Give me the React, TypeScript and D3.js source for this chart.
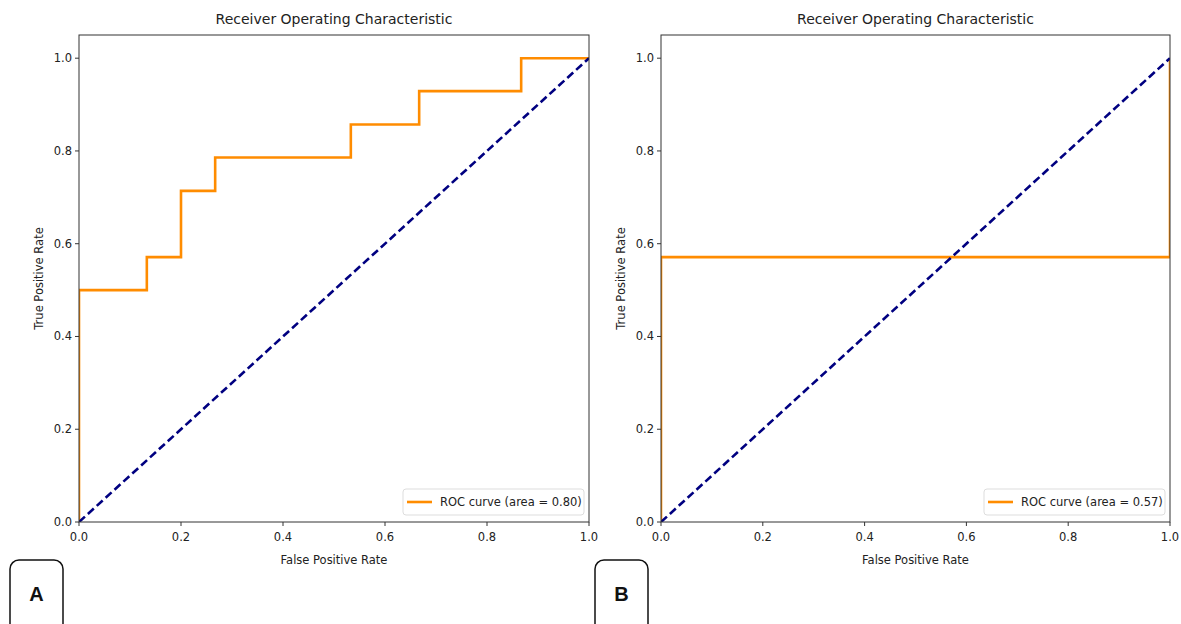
import * as d3 from "d3";

// ROC data
const fprA = [0, 0, 0.133, 0.133, 0.2, 0.2, 0.267, 0.267, 0.533, 0.533, 0.667, 0.667, 0.867, 0.867, 1];
const tprA = [0, 0.5, 0.5, 0.571, 0.571, 0.714, 0.714, 0.786, 0.786, 0.857, 0.857, 0.929, 0.929, 1, 1];
const fprB = [0, 0, 1, 1];
const tprB = [0, 0.571, 0.571, 1];
const chanceLine = [0, 1];
const xTicks = [0, 0.2, 0.4, 0.6, 0.8, 1.0];
const yTicks = [0, 0.2, 0.4, 0.6, 0.8, 1.0];
const aucLabels = ["ROC curve (area = 0.80)", "ROC curve (area = 0.57)"];
const panelLetters = ["A", "B"];

const W = 1181;
const H = 624;
const top = 35;
const bottom = 522;
const font = "DejaVu Sans, sans-serif";
const fmt = d3.format(".1f");

const panels = [
  { left: 79, right: 589, fpr: fprA, tpr: tprA, box: 10, legendX: 403 },
  { left: 661, right: 1170, fpr: fprB, tpr: tprB, box: 595, legendX: 984 },
];

const Panel = ({ p, i }) => {
  const x = d3.scaleLinear().domain([0, 1]).range([p.left, p.right]);
  const y = d3.scaleLinear().domain([0, 1.05]).range([bottom, top]);
  const line = d3
    .line<number>()
    .x((d, k) => x(p.fpr[k]))
    .y((d) => y(d));
  const diag = d3
    .line<number>()
    .x((d) => x(d))
    .y((d) => y(d));
  const legendW = p.right - 5 - p.legendX;
  const cx = (p.left + p.right) / 2;

  return (
    <g>
      <defs>
        <clipPath id={`clip${i}`}>
          <rect x={p.left} y={top} width={p.right - p.left} height={bottom - top} />
        </clipPath>
      </defs>
      <g clipPath={`url(#clip${i})`}>
        <path d={line(p.tpr) ?? ""} fill="none" stroke="#ff8c00" strokeWidth={2.6} />
        <path
          d={diag(chanceLine) ?? ""}
          fill="none"
          stroke="#000080"
          strokeWidth={2.6}
          strokeDasharray="8,4"
        />
      </g>
      <rect
        x={p.left}
        y={top}
        width={p.right - p.left}
        height={bottom - top}
        fill="none"
        stroke="#333"
        strokeWidth={1}
      />
      {/* x axis */}
      {xTicks.map((t) => (
        <g key={`x${t}`}>
          <line x1={x(t)} x2={x(t)} y1={bottom} y2={bottom + 4} stroke="#333" />
          <text x={x(t)} y={bottom + 19} textAnchor="middle" fontSize={11.5} fill="#222">
            {fmt(t)}
          </text>
        </g>
      ))}
      {/* y axis */}
      {yTicks.map((t) => (
        <g key={`y${t}`}>
          <line x1={p.left - 4} x2={p.left} y1={y(t)} y2={y(t)} stroke="#333" />
          <text x={p.left - 7} y={y(t) + 4} textAnchor="end" fontSize={11.5} fill="#222">
            {fmt(t)}
          </text>
        </g>
      ))}
      <text x={cx} y={24} textAnchor="middle" fontSize={14} fill="#222">
        Receiver Operating Characteristic
      </text>
      <text x={cx} y={564} textAnchor="middle" fontSize={11.5} fill="#222">
        False Positive Rate
      </text>
      <text
        transform={`translate(${p.left - 36},${(top + bottom) / 2}) rotate(-90)`}
        textAnchor="middle"
        fontSize={11.5}
        fill="#222"
      >
        True Positive Rate
      </text>
      {/* legend */}
      <rect
        x={p.legendX}
        y={489}
        width={legendW}
        height={26}
        rx={3}
        fill="white"
        fillOpacity={0.8}
        stroke="#ddd"
      />
      <line
        x1={p.legendX + 4}
        x2={p.legendX + 29}
        y1={502}
        y2={502}
        stroke="#ff8c00"
        strokeWidth={2.6}
      />
      <text x={p.legendX + 37} y={506} fontSize={11.5} fill="#222">
        {aucLabels[i]}
      </text>
      {/* panel letter */}
      <rect
        x={p.box}
        y={560}
        width={53}
        height={75}
        rx={9}
        fill="white"
        stroke="#111"
        strokeWidth={1.5}
      />
      <text
        x={p.box + 26.5}
        y={601}
        textAnchor="middle"
        fontSize={20}
        fontWeight="bold"
        fontFamily="Liberation Sans, Arial, sans-serif"
        fill="#111"
      >
        {panelLetters[i]}
      </text>
    </g>
  );
};

export default function App() {
  return (
    <svg
      width={W}
      height={H}
      viewBox={`0 0 ${W} ${H}`}
      style={{ position: "absolute", left: 0, top: 0, background: "white" }}
      fontFamily={font}
    >
      <rect width={W} height={H} fill="white" />
      {panels.map((p, i) => (
        <Panel key={i} p={p} i={i} />
      ))}
    </svg>
  );
}
